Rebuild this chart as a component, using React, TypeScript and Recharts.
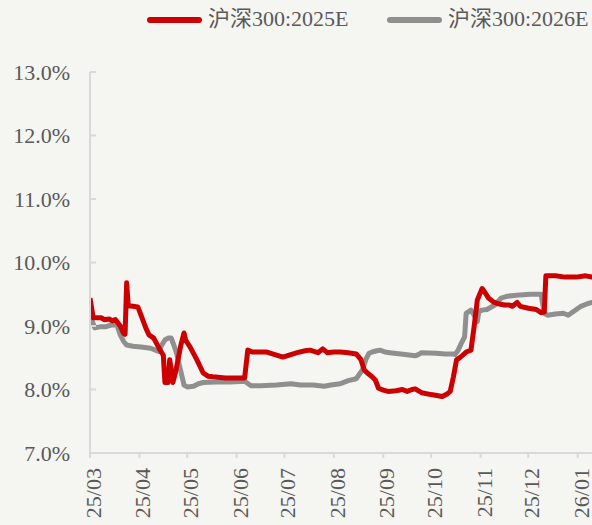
import { LineChart, Line, XAxis, YAxis } from 'recharts'

// day offsets from 2025-03-01, values in %
const redDays = [
  0, 2, 7, 9, 12, 14, 16, 19, 21, 22, 23, 24, 27, 30, 32, 35, 37, 40, 44, 46, 47, 49, 50, 51, 52, 54,
  57, 59, 60, 63, 67, 71, 74, 77, 85, 97, 99, 102, 107, 111, 116, 121, 126, 130, 135, 138, 143, 146,
  149, 153, 157, 162, 167, 170, 172, 174, 177, 179, 181, 184, 187, 192, 196, 199, 202, 204, 208, 214,
  221, 224, 226, 228, 230, 232, 236, 239, 241, 243, 244, 246, 248, 250, 253, 256, 260, 263, 265, 268,
  270, 275, 280, 283, 285, 286, 292, 298, 305, 311, 315, 322,
]
const redValues = [
  9.44, 9.13, 9.13, 9.1, 9.11, 9.08, 9.1, 9.0, 8.89, 8.87, 9.68, 9.32, 9.31, 9.3, 9.17, 8.97, 8.86, 8.81,
  8.62, 8.54, 8.11, 8.11, 8.47, 8.3, 8.11, 8.31, 8.7, 8.89, 8.78, 8.66, 8.47, 8.26, 8.21, 8.2, 8.18, 8.18,
  8.62, 8.59, 8.59, 8.59, 8.55, 8.51, 8.55, 8.58, 8.61, 8.62, 8.58, 8.64, 8.58, 8.59, 8.59, 8.58, 8.56,
  8.47, 8.31, 8.26, 8.2, 8.15, 8.02, 7.99, 7.97, 7.98, 8.0, 7.97, 8.0, 8.01, 7.95, 7.92, 7.89, 7.93, 7.97,
  8.2, 8.47, 8.5, 8.59, 8.62, 8.99, 9.41, 9.47, 9.59, 9.52, 9.44, 9.38, 9.35, 9.33, 9.33, 9.31, 9.37,
  9.31, 9.28, 9.26, 9.21, 9.22, 9.79, 9.79, 9.77, 9.77, 9.79, 9.77, 9.77,
]

const greyDays = [
  0, 3, 7, 10, 14, 17, 19, 21, 23, 27, 32, 38, 43, 45, 47, 49, 51, 54, 56, 59, 61, 65, 68, 71, 79, 88,
  97, 101, 107, 117, 126, 132, 140, 147, 151, 157, 162, 167, 169, 171, 173, 175, 177, 180, 182, 185,
  188, 195, 204, 206, 208, 217, 223, 228, 229, 231, 233, 235, 236, 239, 241, 243, 244, 246, 249, 254,
  258, 262, 270, 276, 283, 285, 287, 292, 297, 300, 304, 308, 312, 315, 322,
]
const greyValues = [
  9.17, 8.97, 8.99, 8.99, 9.02, 9.01, 8.86, 8.76, 8.7, 8.68, 8.67, 8.65, 8.6, 8.7, 8.78, 8.81, 8.81, 8.6,
  8.39, 8.07, 8.04, 8.05, 8.09, 8.11, 8.12, 8.12, 8.13, 8.06, 8.06, 8.07, 8.09, 8.07, 8.07, 8.05, 8.07,
  8.09, 8.14, 8.17, 8.24, 8.31, 8.47, 8.57, 8.59, 8.61, 8.62, 8.59, 8.58, 8.56, 8.53, 8.55, 8.58, 8.57,
  8.56, 8.56, 8.55, 8.62, 8.73, 8.83, 9.2, 9.25, 9.17, 9.07, 9.23, 9.25, 9.26, 9.33, 9.44, 9.47, 9.49,
  9.5, 9.5, 9.2, 9.17, 9.19, 9.2, 9.17, 9.24, 9.31, 9.35, 9.37, 9.4,
]

const monthTicks = [0, 31, 61, 92, 122, 153, 184, 214, 245, 275, 306]
const monthLabels = ['25/03', '25/04', '25/05', '25/06', '25/07', '25/08', '25/09', '25/10', '25/11', '25/12', '26/01']
const yTicks = [7, 8, 9, 10, 11, 12, 13]

const redName = '沪深300:2025E'
const greyName = '沪深300:2026E'

const redData = redDays.map((d, i) => ({ day: d, value: redValues[i] }))
const greyData = greyDays.map((d, i) => ({ day: d, value: greyValues[i] }))

const TEXT = '#595959'
const AXIS = '#D9D9D9'
const RED = '#CC0000'
const GREY = '#8F8F8F'
const FONT = '"Liberation Serif", "Noto Sans CJK SC", serif'

const MonthTick = (props: any) => {
  const { x, y, payload } = props
  const idx = monthTicks.indexOf(payload.value)
  return (
    <text
      x={x}
      y={y}
      dy={11}
      transform={`rotate(-90, ${x}, ${y})`}
      textAnchor='end'
      fill={TEXT}
      fontSize={22}
      fontFamily={FONT}
    >
      {monthLabels[idx] ?? ''}
    </text>
  )
}

const legendItems = [
  { name: redName, color: RED, left: 147 },
  { name: greyName, color: GREY, left: 387 },
]

export default function App() {
  return (
    <div
      style={{
        position: 'absolute',
        left: 0,
        top: 0,
        width: 592,
        height: 525,
        overflow: 'hidden',
        background: '#F5F5F2',
      }}
    >
      {legendItems.map((it) => (
        <div key={it.name}>
          <div
            style={{
              position: 'absolute',
              left: it.left,
              top: 16.5,
              width: 55,
              height: 6,
              borderRadius: 3,
              background: it.color,
            }}
          />
          <span
            style={{
              position: 'absolute',
              left: it.left + 61,
              top: 6,
              lineHeight: '26px',
              fontSize: 22,
              fontFamily: FONT,
              color: TEXT,
              whiteSpace: 'nowrap',
            }}
          >
            {it.name}
          </span>
        </div>
      ))}
      <LineChart width={620} height={525} margin={{ top: 72, right: 4, bottom: 0, left: 0 }}>
        <XAxis
          dataKey='day'
          type='number'
          domain={[0, 330]}
          ticks={monthTicks}
          interval={0}
          allowDataOverflow
          height={72}
          tick={<MonthTick />}
          tickSize={5}
          tickMargin={10}
          axisLine={{ stroke: AXIS, strokeWidth: 2 }}
          tickLine={{ stroke: AXIS, strokeWidth: 2 }}
        />
        <YAxis
          type='number'
          domain={[7, 13]}
          ticks={yTicks}
          interval={0}
          width={90}
          tickSize={-6}
          tickMargin={26}
          tickFormatter={(v: number) => `${v.toFixed(1)}%`}
          tick={{ fill: TEXT, fontSize: 22, fontFamily: FONT }}
          axisLine={{ stroke: AXIS, strokeWidth: 2 }}
          tickLine={{ stroke: AXIS, strokeWidth: 2 }}
        />
        <Line
          data={greyData}
          dataKey='value'
          name={greyName}
          stroke={GREY}
          strokeWidth={5}
          strokeLinejoin='round'
          dot={false}
          isAnimationActive={false}
        />
        <Line
          data={redData}
          dataKey='value'
          name={redName}
          stroke={RED}
          strokeWidth={5}
          strokeLinejoin='round'
          dot={false}
          isAnimationActive={false}
        />
      </LineChart>
    </div>
  )
}
